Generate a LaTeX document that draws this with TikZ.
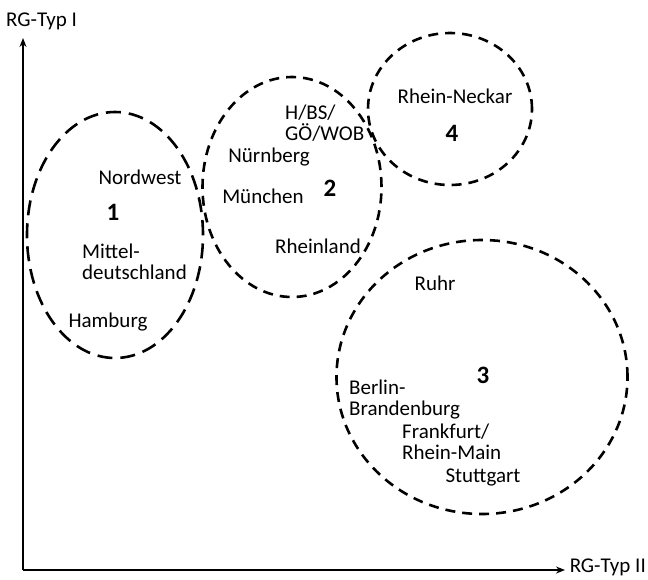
\documentclass[tikz,border=0pt]{standalone}
\usepackage{fontspec}
\setmainfont{Carlito}
\usetikzlibrary{arrows.meta,positioning,shapes.geometric}

\begin{document}
\begin{tikzpicture}[
  x=1pt,y=-1pt,
  cluster/.style={draw,ellipse,line width=2.6pt,dash pattern=on 10pt off 7pt,inner sep=0pt},
  region/.style={font=\fontsize{21}{21}\selectfont,inner sep=0pt},
  multi/.style={region,align=left,anchor=west},
  num/.style={font=\fontsize{25}{25}\selectfont\bfseries,inner sep=0pt},
  axis/.style={-{Stealth[length=9pt,width=7pt]},line width=1.4pt}
]
\useasboundingbox (0,0) rectangle (648,579);
% axes
\coordinate (origin) at (23,570);
\coordinate (ytip) at (23,38);
\coordinate (xtip) at (565,570);
\draw[axis] (origin)--(ytip);
\draw[axis] (origin)--(xtip);
\node[region,anchor=west] (ylab) at (6,21) {RG-Typ I};
\node[region,anchor=east] (xlab) at (646,567) {RG-Typ II};
% clusters
\node[cluster,dash pattern=on 15pt off 8pt,minimum width=176pt,minimum height=246pt] (c1) at (115,235) {};
\node[cluster,minimum width=179pt,minimum height=220pt] (c2) at (292,187) {};
\node[cluster,minimum width=291pt,minimum height=274pt] (c3) at (482,377) {};
\node[cluster,minimum width=164pt,minimum height=152pt] (c4) at (450,109) {};
% cluster 1
\node[region] (nordwest) at (140,177) {Nordwest};
\node[num] (n1) at (113,212) {1};
\node[multi] (mittel) at (82,262) {Mittel-\\deutschland};
\node[region] (hamburg) at (108,322) {Hamburg};
% cluster 2
\node[multi] (hbs) at (285,123) {H/BS/\\GÖ/WOB};
\node[region] (nuernberg) at (269,157) {Nürnberg};
\node[num] (n2) at (330,188) {2};
\node[region] (muenchen) at (263,196) {München};
\node[region] (rheinland) at (318,246) {Rheinland};
% cluster 4
\node[region] (neckar) at (455,96) {Rhein-Neckar};
\node[num] (n4) at (452,133) {4};
% cluster 3
\node[region] (ruhr) at (435,283) {Ruhr};
\node[num] (n3) at (483,375) {3};
\node[multi] (berlin) at (349,400) {Berlin-\\Brandenburg};
\node[multi] (frankfurt) at (402,442) {Frankfurt/\\Rhein-Main};
\node[region] (stuttgart) at (483,477) {Stuttgart};
\end{tikzpicture}
\end{document}
